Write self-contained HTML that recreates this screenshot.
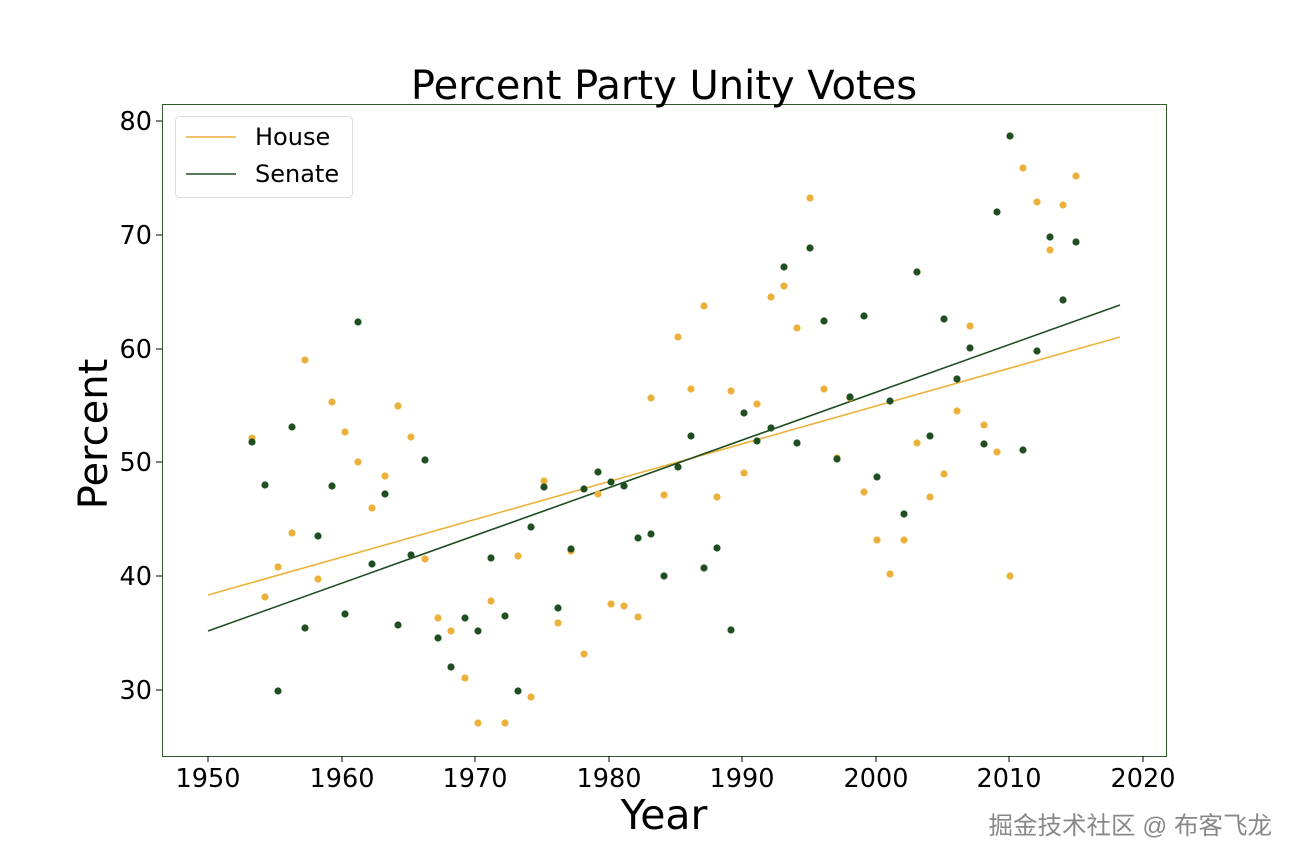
<!DOCTYPE html>
<html><head><meta charset="utf-8"><style>
html,body{margin:0;padding:0;background:#fff;}
svg{display:block;font-family:"DejaVu Sans","Liberation Sans",sans-serif;}
</style></head><body>
<svg width="1296" height="864" viewBox="0 0 1296 864" xmlns="http://www.w3.org/2000/svg">
<rect width="1296" height="864" fill="#fff"/>
<rect x="162.5" y="104.5" width="1004" height="652" fill="none" stroke="#2f5a2a" stroke-width="1"/>
<g stroke="#000" stroke-width="1">
<line x1="208" y1="756" x2="208" y2="762"/><line x1="342" y1="756" x2="342" y2="762"/><line x1="475" y1="756" x2="475" y2="762"/><line x1="609" y1="756" x2="609" y2="762"/><line x1="742" y1="756" x2="742" y2="762"/><line x1="876" y1="756" x2="876" y2="762"/><line x1="1009" y1="756" x2="1009" y2="762"/><line x1="1143" y1="756" x2="1143" y2="762"/>
<line x1="156" y1="121" x2="162" y2="121"/><line x1="156" y1="235" x2="162" y2="235"/><line x1="156" y1="349" x2="162" y2="349"/><line x1="156" y1="462" x2="162" y2="462"/><line x1="156" y1="576" x2="162" y2="576"/><line x1="156" y1="690" x2="162" y2="690"/>
</g>
<g font-size="25.5" fill="#000" text-anchor="middle">
<text x="208" y="787">1950</text><text x="342" y="787">1960</text><text x="475" y="787">1970</text><text x="609" y="787">1980</text><text x="742" y="787">1990</text><text x="876" y="787">2000</text><text x="1009" y="787">2010</text><text x="1143" y="787">2020</text>
</g>
<g font-size="25.5" fill="#000" text-anchor="end">
<text x="152" y="130">80</text><text x="152" y="244">70</text><text x="152" y="358">60</text><text x="152" y="471">50</text><text x="152" y="585">40</text><text x="152" y="699">30</text>
</g>
<text x="664" y="99" font-size="40" text-anchor="middle">Percent Party Unity Votes</text>
<text x="664" y="829" font-size="41" text-anchor="middle">Year</text>
<text transform="translate(107,434) rotate(-90)" font-size="40" text-anchor="middle">Percent</text>
<line x1="208" y1="595" x2="1120" y2="337" stroke="#ebb13a" stroke-width="1.6"/>
<line x1="208" y1="631" x2="1120" y2="305" stroke="#1f4e20" stroke-width="1.6"/>
<g fill="#ebb13a" id="h"></g>
<g fill="#1f4e20" id="s"></g>
<rect x="175.5" y="116.5" width="177" height="81" rx="4" fill="#fff" stroke="#ddd"/>
<line x1="186" y1="137" x2="236" y2="137" stroke="#ebb13a" stroke-width="1.6"/>
<line x1="186" y1="174" x2="236" y2="174" stroke="#1f4e20" stroke-width="1.6"/>
<text x="255" y="145" font-size="24">House</text>
<text x="255" y="182" font-size="24">Senate</text>
<text x="1272" y="834" font-size="24.5" fill="#888" text-anchor="end" font-family="'Liberation Sans','Noto Sans CJK SC',sans-serif">掘金技术社区 @ 布客飞龙</text>
</svg>
<script>
var H=[[252,438],[265,597],[278,567],[292,533],[305,360],[318,579],[332,402],[345,432],[358,462],[372,508],[385,476],[398,406],[411,437],[425,559],[438,618],[451,631],[465,678],[478,723],[491,601],[505,723],[518,556],[531,697],[544,481],[558,623],[571,551],[584,654],[598,494],[611,604],[624,606],[638,617],[651,398],[664,495],[678,337],[691,389],[704,306],[717,497],[731,391],[744,473],[757,404],[771,297],[784,286],[797,328],[810,198],[824,389],[837,458],[850,398],[864,492],[877,540],[890,574],[904,540],[917,443],[930,497],[944,474],[957,411],[970,326],[984,425],[997,452],[1010,576],[1023,168],[1037,202],[1050,250],[1063,205],[1076,176]];
var S=[[252,442],[265,485],[278,691],[292,427],[305,628],[318,536],[332,486],[345,614],[358,322],[372,564],[385,494],[398,625],[411,555],[425,460],[438,638],[451,667],[465,618],[478,631],[491,558],[505,616],[518,691],[531,527],[544,487],[558,608],[571,549],[584,489],[598,472],[611,482],[624,486],[638,538],[651,534],[664,576],[678,467],[691,436],[704,568],[717,548],[731,630],[744,413],[757,441],[771,428],[784,267],[797,443],[810,248],[824,321],[837,459],[850,397],[864,316],[877,477],[890,401],[904,514],[917,272],[930,436],[944,319],[957,379],[970,348],[984,444],[997,212],[1010,136],[1023,450],[1037,351],[1050,237],[1063,300],[1076,242]];
function add(id,a){var g=document.getElementById(id),ns="http://www.w3.org/2000/svg";a.forEach(function(p){var c=document.createElementNS(ns,"circle");c.setAttribute("cx",p[0]);c.setAttribute("cy",p[1]);c.setAttribute("r",3.6);g.appendChild(c);});}
add("h",H);add("s",S);
</script>
</body></html>
